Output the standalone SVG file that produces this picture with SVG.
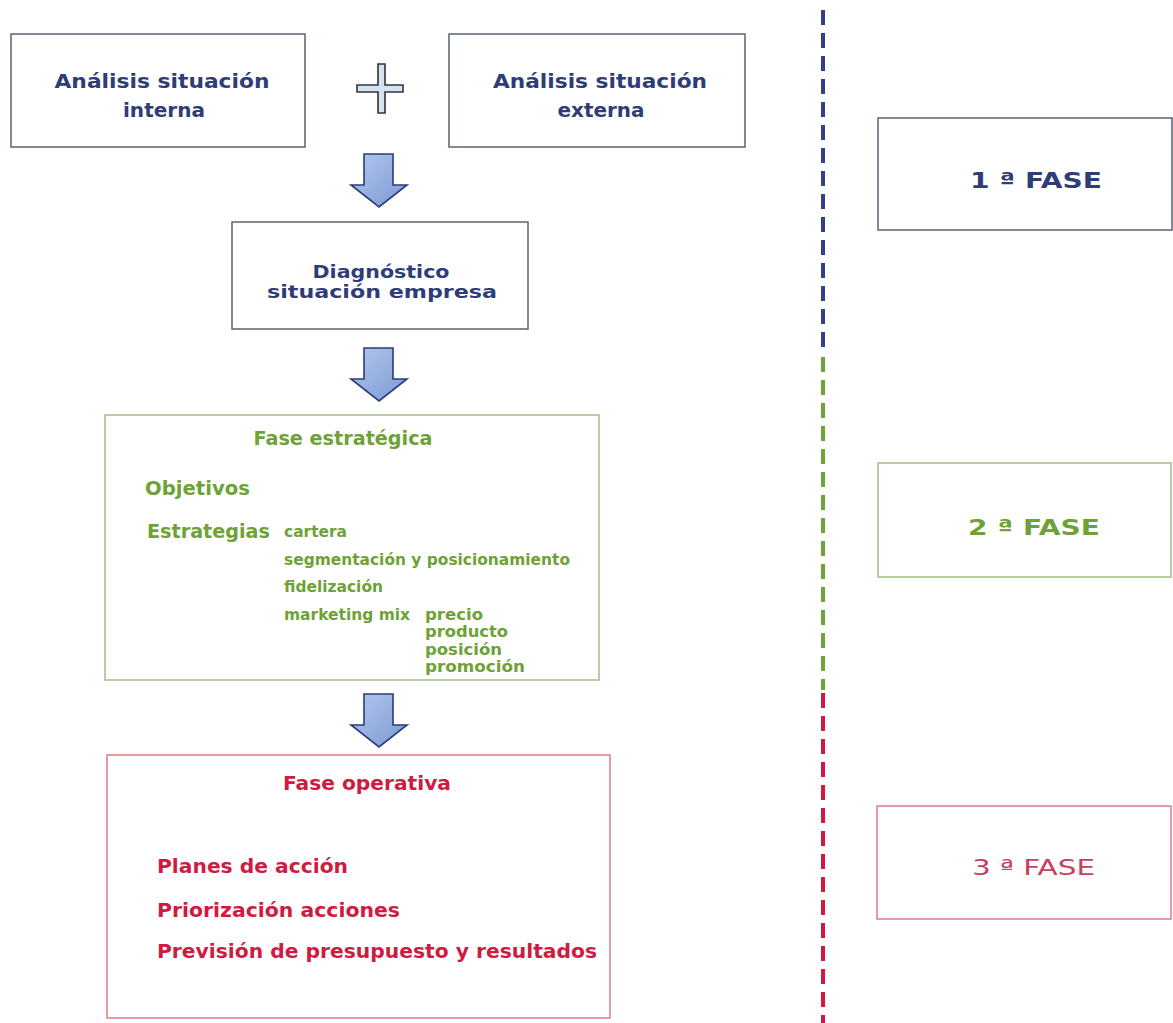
<svg xmlns="http://www.w3.org/2000/svg" width="1173" height="1023" viewBox="0 0 1173 1023">
<style>
.bx{fill:#ffffff;stroke-width:1.5}
.blue{stroke:#5b6274}
.green{stroke:#a3bd85}
.red{stroke:#e07a8a}
text{font-family:"DejaVu Sans",Verdana,sans-serif;font-weight:bold}
.tb{fill:#2e3d78}
.tg{fill:#6ea236}
.tr{fill:#cf1b3f}
.tn{font-weight:normal;fill:#c4415e}
.arrow{fill:url(#ag);stroke:#2d3b7a;stroke-width:1.6;stroke-linejoin:miter}
</style>
<defs>
<linearGradient id="ag" x1="0" y1="0" x2="1" y2="1">
<stop offset="0" stop-color="#b4c8ec"/>
<stop offset="1" stop-color="#7b98d4"/>
</linearGradient>
</defs>
<rect width="1173" height="1023" fill="#ffffff"/>

<g id="divider">
<line x1="823" y1="10" x2="823" y2="352" stroke="#34418a" stroke-width="4" stroke-dasharray="15 8"/>
<line x1="823" y1="357" x2="823" y2="690" stroke="#6fa43a" stroke-width="4" stroke-dasharray="15 8"/>
<line x1="823" y1="693" x2="823" y2="1023" stroke="#d3173f" stroke-width="4" stroke-dasharray="15 8"/>
</g>

<g id="connectors">
<path class="arrow" d="M364,154 H393 V185 H407 L379,207 L351,185 H364 Z"/>
<path class="arrow" d="M364,348 H393 V379 H407 L379,401 L351,379 H364 Z"/>
<path class="arrow" d="M364,694 H393 V725 H407 L379,747 L351,725 H364 Z"/>
</g>

<g id="plus">
<path d="M378,64 H385 V85 H403 V92 H385 V113 H378 V92 H357 V85 H378 Z" fill="#d6e2ee" stroke="#2f3340" stroke-width="1.6"/>
</g>

<g id="analisis-interna">
<rect class="bx blue" x="11" y="34" width="294" height="113"/>
<text class="tb" font-size="19" text-anchor="middle" x="162" y="88" textLength="215" lengthAdjust="spacingAndGlyphs">Análisis situación</text>
<text class="tb" font-size="19" text-anchor="middle" x="164" y="117" textLength="82" lengthAdjust="spacingAndGlyphs">interna</text>
</g>

<g id="analisis-externa">
<rect class="bx blue" x="449" y="34" width="296" height="113"/>
<text class="tb" font-size="19" text-anchor="middle" x="600" y="88" textLength="214" lengthAdjust="spacingAndGlyphs">Análisis situación</text>
<text class="tb" font-size="19" text-anchor="middle" x="601" y="117" textLength="87" lengthAdjust="spacingAndGlyphs">externa</text>
</g>

<g id="diagnostico">
<rect class="bx blue" x="232" y="222" width="296" height="107"/>
<text class="tb" font-size="18" text-anchor="middle" x="381" y="278" textLength="137" lengthAdjust="spacingAndGlyphs">Diagnóstico</text>
<text class="tb" font-size="18" text-anchor="middle" x="382" y="298" textLength="230" lengthAdjust="spacingAndGlyphs">situación empresa</text>
</g>

<g id="fase-estrategica">
<rect class="bx green" x="105" y="415" width="494" height="265"/>
<text class="tg" font-size="19" text-anchor="middle" x="343" y="445" textLength="179" lengthAdjust="spacingAndGlyphs">Fase estratégica</text>
<text class="tg" font-size="20" x="145" y="495" textLength="105" lengthAdjust="spacingAndGlyphs">Objetivos</text>
<text class="tg" font-size="20" x="147" y="538" textLength="123" lengthAdjust="spacingAndGlyphs">Estrategias</text>
<text class="tg" font-size="15" x="284" y="537" textLength="63" lengthAdjust="spacingAndGlyphs">cartera</text>
<text class="tg" font-size="15" x="284" y="565" textLength="286" lengthAdjust="spacingAndGlyphs">segmentación y posicionamiento</text>
<text class="tg" font-size="15" x="284" y="592" textLength="99" lengthAdjust="spacingAndGlyphs">fidelización</text>
<text class="tg" font-size="15" x="284" y="620" textLength="126" lengthAdjust="spacingAndGlyphs">marketing mix</text>
<text class="tg" font-size="16" x="425" y="620" textLength="58" lengthAdjust="spacingAndGlyphs">precio</text>
<text class="tg" font-size="16" x="425" y="637" textLength="83" lengthAdjust="spacingAndGlyphs">producto</text>
<text class="tg" font-size="16" x="425" y="655" textLength="77" lengthAdjust="spacingAndGlyphs">posición</text>
<text class="tg" font-size="16" x="425" y="672" textLength="100" lengthAdjust="spacingAndGlyphs">promoción</text>
</g>

<g id="fase-operativa">
<rect class="bx red" x="107" y="755" width="503" height="263"/>
<text class="tr" font-size="19" text-anchor="middle" x="367" y="790" textLength="168" lengthAdjust="spacingAndGlyphs">Fase operativa</text>
<text class="tr" font-size="20" x="157" y="873" textLength="191" lengthAdjust="spacingAndGlyphs">Planes de acción</text>
<text class="tr" font-size="20" x="157" y="917" textLength="243" lengthAdjust="spacingAndGlyphs">Priorización acciones</text>
<text class="tr" font-size="20" x="157" y="958" textLength="440" lengthAdjust="spacingAndGlyphs">Previsión de presupuesto y resultados</text>
</g>

<g id="fase1">
<rect class="bx blue" x="878" y="118" width="294" height="112"/>
<text class="tb" font-size="22" x="970" y="188" textLength="132" lengthAdjust="spacingAndGlyphs">1 ª FASE</text>
</g>

<g id="fase2">
<rect class="bx green" x="878" y="463" width="293" height="114"/>
<text class="tg" font-size="22" x="968" y="535" textLength="132" lengthAdjust="spacingAndGlyphs">2 ª FASE</text>
</g>

<g id="fase3">
<rect class="bx red" x="877" y="806" width="294" height="113"/>
<text class="tn" font-size="22" x="972" y="875" textLength="123" lengthAdjust="spacingAndGlyphs">3 ª FASE</text>
</g>
</svg>
